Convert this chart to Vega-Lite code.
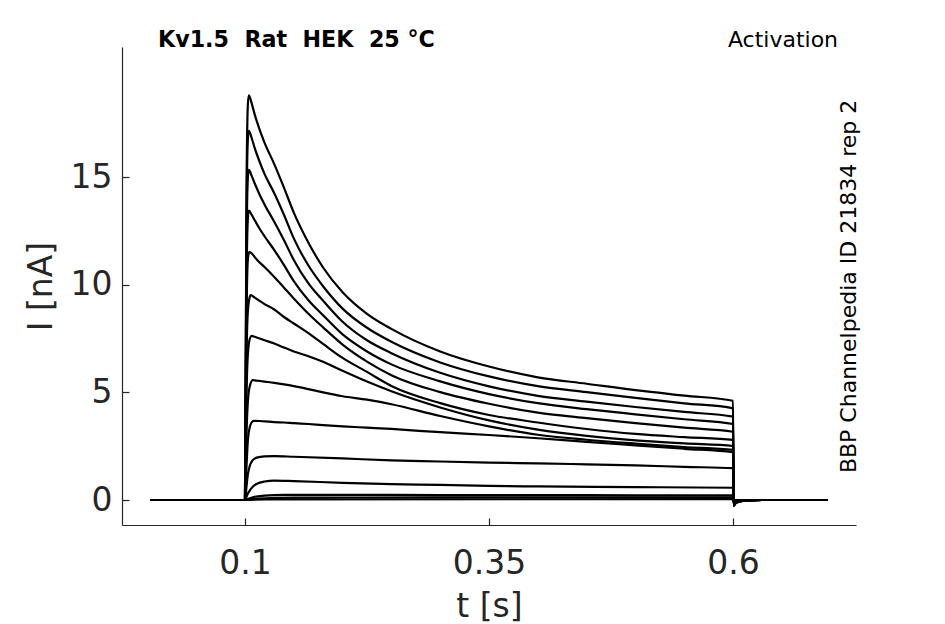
{
  "$schema": "https://vega.github.io/schema/vega-lite/v6.json",
  "width": 734,
  "height": 478,
  "autosize": "none",
  "padding": {"left": 122, "top": 47, "right": 89, "bottom": 99},
  "background": "white",
  "config": {
    "view": {"stroke": null},
    "font": "DejaVu Sans",
    "axis": {
      "grid": false,
      "domainColor": "#262626",
      "domainWidth": 1.2,
      "tickColor": "#262626",
      "tickWidth": 1.2,
      "tickSize": -7,
      "labelColor": "#262626",
      "labelFont": "DejaVu Sans",
      "labelFontSize": 33,
      "titleColor": "#262626",
      "titleFont": "DejaVu Sans",
      "titleFontSize": 33,
      "titleFontWeight": "normal"
    }
  },
  "layer": [
    {
      "data": {
        "values": [
          {"k": 1, "t": 0.003, "i": 0}, {"k": 1, "t": 0.1, "i": 0}, {"k": 1, "t": 0.1015, "i": 14.0}, {"k": 1, "t": 0.103, "i": 18.4}, {"k": 1, "t": 0.104, "i": 18.8}, {"k": 1, "t": 0.107, "i": 18.4}, {"k": 1, "t": 0.11, "i": 17.9}, {"k": 1, "t": 0.115, "i": 17.2}, {"k": 1, "t": 0.12, "i": 16.6}, {"k": 1, "t": 0.13, "i": 15.6}, {"k": 1, "t": 0.14, "i": 14.5}, {"k": 1, "t": 0.15, "i": 13.35}, {"k": 1, "t": 0.165, "i": 11.95}, {"k": 1, "t": 0.18, "i": 10.8}, {"k": 1, "t": 0.2, "i": 9.65}, {"k": 1, "t": 0.225, "i": 8.65}, {"k": 1, "t": 0.25, "i": 7.95}, {"k": 1, "t": 0.3, "i": 6.9}, {"k": 1, "t": 0.35, "i": 6.2}, {"k": 1, "t": 0.4, "i": 5.7}, {"k": 1, "t": 0.45, "i": 5.4}, {"k": 1, "t": 0.5, "i": 5.1}, {"k": 1, "t": 0.55, "i": 4.85}, {"k": 1, "t": 0.6, "i": 4.61}, {"k": 1, "t": 0.6005, "i": -0.28}, {"k": 1, "t": 0.603, "i": -0.14}, {"k": 1, "t": 0.61, "i": -0.04}, {"k": 1, "t": 0.63, "i": 0}, {"k": 1, "t": 0.697, "i": 0},
          {"k": 2, "t": 0.003, "i": 0}, {"k": 2, "t": 0.1, "i": 0}, {"k": 2, "t": 0.1015, "i": 12.8}, {"k": 2, "t": 0.103, "i": 16.8}, {"k": 2, "t": 0.104, "i": 17.15}, {"k": 2, "t": 0.107, "i": 16.79}, {"k": 2, "t": 0.11, "i": 16.34}, {"k": 2, "t": 0.115, "i": 15.71}, {"k": 2, "t": 0.12, "i": 15.15}, {"k": 2, "t": 0.13, "i": 14.25}, {"k": 2, "t": 0.14, "i": 13.24}, {"k": 2, "t": 0.15, "i": 12.15}, {"k": 2, "t": 0.165, "i": 10.89}, {"k": 2, "t": 0.18, "i": 9.93}, {"k": 2, "t": 0.2, "i": 8.89}, {"k": 2, "t": 0.225, "i": 8.0}, {"k": 2, "t": 0.25, "i": 7.35}, {"k": 2, "t": 0.3, "i": 6.39}, {"k": 2, "t": 0.35, "i": 5.74}, {"k": 2, "t": 0.4, "i": 5.29}, {"k": 2, "t": 0.45, "i": 5.01}, {"k": 2, "t": 0.5, "i": 4.74}, {"k": 2, "t": 0.55, "i": 4.49}, {"k": 2, "t": 0.6, "i": 4.26}, {"k": 2, "t": 0.6005, "i": -0.27}, {"k": 2, "t": 0.603, "i": -0.13}, {"k": 2, "t": 0.61, "i": -0.04}, {"k": 2, "t": 0.63, "i": 0}, {"k": 2, "t": 0.697, "i": 0},
          {"k": 3, "t": 0.003, "i": 0}, {"k": 3, "t": 0.1, "i": 0}, {"k": 3, "t": 0.1015, "i": 11.3}, {"k": 3, "t": 0.103, "i": 15.0}, {"k": 3, "t": 0.104, "i": 15.33}, {"k": 3, "t": 0.107, "i": 15.04}, {"k": 3, "t": 0.11, "i": 14.7}, {"k": 3, "t": 0.115, "i": 14.18}, {"k": 3, "t": 0.12, "i": 13.73}, {"k": 3, "t": 0.13, "i": 12.92}, {"k": 3, "t": 0.14, "i": 12.06}, {"k": 3, "t": 0.15, "i": 11.15}, {"k": 3, "t": 0.165, "i": 10.06}, {"k": 3, "t": 0.18, "i": 9.26}, {"k": 3, "t": 0.2, "i": 8.28}, {"k": 3, "t": 0.225, "i": 7.42}, {"k": 3, "t": 0.25, "i": 6.82}, {"k": 3, "t": 0.3, "i": 5.91}, {"k": 3, "t": 0.35, "i": 5.28}, {"k": 3, "t": 0.4, "i": 4.84}, {"k": 3, "t": 0.45, "i": 4.57}, {"k": 3, "t": 0.5, "i": 4.32}, {"k": 3, "t": 0.55, "i": 4.09}, {"k": 3, "t": 0.6, "i": 3.87}, {"k": 3, "t": 0.6005, "i": -0.26}, {"k": 3, "t": 0.603, "i": -0.12}, {"k": 3, "t": 0.61, "i": -0.04}, {"k": 3, "t": 0.63, "i": 0}, {"k": 3, "t": 0.697, "i": 0},
          {"k": 4, "t": 0.003, "i": 0}, {"k": 4, "t": 0.1, "i": 0}, {"k": 4, "t": 0.1015, "i": 9.8}, {"k": 4, "t": 0.103, "i": 13.1}, {"k": 4, "t": 0.104, "i": 13.44}, {"k": 4, "t": 0.107, "i": 13.24}, {"k": 4, "t": 0.11, "i": 12.99}, {"k": 4, "t": 0.115, "i": 12.6}, {"k": 4, "t": 0.12, "i": 12.25}, {"k": 4, "t": 0.13, "i": 11.61}, {"k": 4, "t": 0.14, "i": 10.91}, {"k": 4, "t": 0.15, "i": 10.17}, {"k": 4, "t": 0.165, "i": 9.28}, {"k": 4, "t": 0.18, "i": 8.58}, {"k": 4, "t": 0.2, "i": 7.69}, {"k": 4, "t": 0.225, "i": 6.9}, {"k": 4, "t": 0.25, "i": 6.3}, {"k": 4, "t": 0.3, "i": 5.51}, {"k": 4, "t": 0.35, "i": 4.92}, {"k": 4, "t": 0.4, "i": 4.5}, {"k": 4, "t": 0.45, "i": 4.22}, {"k": 4, "t": 0.5, "i": 3.98}, {"k": 4, "t": 0.55, "i": 3.75}, {"k": 4, "t": 0.6, "i": 3.53}, {"k": 4, "t": 0.6005, "i": -0.25}, {"k": 4, "t": 0.603, "i": -0.12}, {"k": 4, "t": 0.61, "i": -0.04}, {"k": 4, "t": 0.63, "i": 0}, {"k": 4, "t": 0.697, "i": 0},
          {"k": 5, "t": 0.003, "i": 0}, {"k": 5, "t": 0.1, "i": 0}, {"k": 5, "t": 0.1015, "i": 8.3}, {"k": 5, "t": 0.103, "i": 11.2}, {"k": 5, "t": 0.1045, "i": 11.53}, {"k": 5, "t": 0.107, "i": 11.45}, {"k": 5, "t": 0.11, "i": 11.28}, {"k": 5, "t": 0.115, "i": 11.03}, {"k": 5, "t": 0.12, "i": 10.82}, {"k": 5, "t": 0.13, "i": 10.36}, {"k": 5, "t": 0.14, "i": 9.86}, {"k": 5, "t": 0.15, "i": 9.36}, {"k": 5, "t": 0.165, "i": 8.65}, {"k": 5, "t": 0.18, "i": 8.02}, {"k": 5, "t": 0.2, "i": 7.22}, {"k": 5, "t": 0.225, "i": 6.43}, {"k": 5, "t": 0.25, "i": 5.8}, {"k": 5, "t": 0.3, "i": 5.01}, {"k": 5, "t": 0.35, "i": 4.47}, {"k": 5, "t": 0.4, "i": 4.06}, {"k": 5, "t": 0.45, "i": 3.8}, {"k": 5, "t": 0.5, "i": 3.57}, {"k": 5, "t": 0.55, "i": 3.36}, {"k": 5, "t": 0.6, "i": 3.17}, {"k": 5, "t": 0.6005, "i": -0.24}, {"k": 5, "t": 0.603, "i": -0.11}, {"k": 5, "t": 0.61, "i": -0.03}, {"k": 5, "t": 0.63, "i": 0}, {"k": 5, "t": 0.697, "i": 0},
          {"k": 6, "t": 0.003, "i": 0}, {"k": 6, "t": 0.1, "i": 0}, {"k": 6, "t": 0.1015, "i": 6.5}, {"k": 6, "t": 0.103, "i": 8.8}, {"k": 6, "t": 0.105, "i": 9.45}, {"k": 6, "t": 0.106, "i": 9.52}, {"k": 6, "t": 0.11, "i": 9.4}, {"k": 6, "t": 0.115, "i": 9.25}, {"k": 6, "t": 0.12, "i": 9.1}, {"k": 6, "t": 0.13, "i": 8.85}, {"k": 6, "t": 0.14, "i": 8.5}, {"k": 6, "t": 0.15, "i": 8.2}, {"k": 6, "t": 0.165, "i": 7.75}, {"k": 6, "t": 0.18, "i": 7.25}, {"k": 6, "t": 0.2, "i": 6.6}, {"k": 6, "t": 0.225, "i": 5.95}, {"k": 6, "t": 0.25, "i": 5.3}, {"k": 6, "t": 0.3, "i": 4.5}, {"k": 6, "t": 0.35, "i": 3.95}, {"k": 6, "t": 0.4, "i": 3.6}, {"k": 6, "t": 0.45, "i": 3.3}, {"k": 6, "t": 0.5, "i": 3.07}, {"k": 6, "t": 0.55, "i": 2.92}, {"k": 6, "t": 0.6, "i": 2.79}, {"k": 6, "t": 0.6005, "i": -0.22}, {"k": 6, "t": 0.603, "i": -0.1}, {"k": 6, "t": 0.61, "i": -0.03}, {"k": 6, "t": 0.63, "i": 0}, {"k": 6, "t": 0.697, "i": 0},
          {"k": 7, "t": 0.003, "i": 0}, {"k": 7, "t": 0.1, "i": 0}, {"k": 7, "t": 0.1015, "i": 4.8}, {"k": 7, "t": 0.103, "i": 6.8}, {"k": 7, "t": 0.105, "i": 7.5}, {"k": 7, "t": 0.107, "i": 7.62}, {"k": 7, "t": 0.11, "i": 7.58}, {"k": 7, "t": 0.115, "i": 7.5}, {"k": 7, "t": 0.12, "i": 7.42}, {"k": 7, "t": 0.13, "i": 7.27}, {"k": 7, "t": 0.14, "i": 7.08}, {"k": 7, "t": 0.15, "i": 6.9}, {"k": 7, "t": 0.165, "i": 6.68}, {"k": 7, "t": 0.18, "i": 6.42}, {"k": 7, "t": 0.2, "i": 6.0}, {"k": 7, "t": 0.225, "i": 5.5}, {"k": 7, "t": 0.25, "i": 5.05}, {"k": 7, "t": 0.3, "i": 4.3}, {"k": 7, "t": 0.35, "i": 3.7}, {"k": 7, "t": 0.4, "i": 3.27}, {"k": 7, "t": 0.45, "i": 2.98}, {"k": 7, "t": 0.5, "i": 2.77}, {"k": 7, "t": 0.55, "i": 2.63}, {"k": 7, "t": 0.6, "i": 2.51}, {"k": 7, "t": 0.6005, "i": -0.2}, {"k": 7, "t": 0.603, "i": -0.09}, {"k": 7, "t": 0.61, "i": -0.03}, {"k": 7, "t": 0.63, "i": 0}, {"k": 7, "t": 0.697, "i": 0},
          {"k": 8, "t": 0.003, "i": 0}, {"k": 8, "t": 0.1, "i": 0}, {"k": 8, "t": 0.1015, "i": 3.0}, {"k": 8, "t": 0.103, "i": 4.6}, {"k": 8, "t": 0.105, "i": 5.3}, {"k": 8, "t": 0.108, "i": 5.57}, {"k": 8, "t": 0.11, "i": 5.56}, {"k": 8, "t": 0.115, "i": 5.53}, {"k": 8, "t": 0.12, "i": 5.5}, {"k": 8, "t": 0.13, "i": 5.44}, {"k": 8, "t": 0.14, "i": 5.37}, {"k": 8, "t": 0.15, "i": 5.29}, {"k": 8, "t": 0.165, "i": 5.15}, {"k": 8, "t": 0.18, "i": 5.0}, {"k": 8, "t": 0.2, "i": 4.82}, {"k": 8, "t": 0.225, "i": 4.66}, {"k": 8, "t": 0.25, "i": 4.45}, {"k": 8, "t": 0.3, "i": 3.9}, {"k": 8, "t": 0.35, "i": 3.42}, {"k": 8, "t": 0.4, "i": 3.03}, {"k": 8, "t": 0.45, "i": 2.8}, {"k": 8, "t": 0.5, "i": 2.62}, {"k": 8, "t": 0.55, "i": 2.46}, {"k": 8, "t": 0.6, "i": 2.33}, {"k": 8, "t": 0.6005, "i": -0.18}, {"k": 8, "t": 0.603, "i": -0.08}, {"k": 8, "t": 0.61, "i": -0.02}, {"k": 8, "t": 0.63, "i": 0}, {"k": 8, "t": 0.697, "i": 0},
          {"k": 9, "t": 0.003, "i": 0}, {"k": 9, "t": 0.1, "i": 0}, {"k": 9, "t": 0.1015, "i": 1.5}, {"k": 9, "t": 0.103, "i": 2.8}, {"k": 9, "t": 0.105, "i": 3.4}, {"k": 9, "t": 0.107, "i": 3.62}, {"k": 9, "t": 0.109, "i": 3.68}, {"k": 9, "t": 0.115, "i": 3.67}, {"k": 9, "t": 0.12, "i": 3.65}, {"k": 9, "t": 0.13, "i": 3.62}, {"k": 9, "t": 0.14, "i": 3.6}, {"k": 9, "t": 0.15, "i": 3.57}, {"k": 9, "t": 0.165, "i": 3.53}, {"k": 9, "t": 0.18, "i": 3.48}, {"k": 9, "t": 0.2, "i": 3.42}, {"k": 9, "t": 0.225, "i": 3.36}, {"k": 9, "t": 0.25, "i": 3.3}, {"k": 9, "t": 0.3, "i": 3.15}, {"k": 9, "t": 0.35, "i": 3.02}, {"k": 9, "t": 0.4, "i": 2.87}, {"k": 9, "t": 0.45, "i": 2.7}, {"k": 9, "t": 0.5, "i": 2.54}, {"k": 9, "t": 0.55, "i": 2.38}, {"k": 9, "t": 0.6, "i": 2.22}, {"k": 9, "t": 0.6005, "i": -0.16}, {"k": 9, "t": 0.603, "i": -0.07}, {"k": 9, "t": 0.61, "i": -0.02}, {"k": 9, "t": 0.63, "i": 0}, {"k": 9, "t": 0.697, "i": 0},
          {"k": 10, "t": 0.003, "i": 0}, {"k": 10, "t": 0.1, "i": 0}, {"k": 10, "t": 0.1015, "i": 0.6}, {"k": 10, "t": 0.103, "i": 1.2}, {"k": 10, "t": 0.105, "i": 1.6}, {"k": 10, "t": 0.108, "i": 1.85}, {"k": 10, "t": 0.112, "i": 1.97}, {"k": 10, "t": 0.12, "i": 2.03}, {"k": 10, "t": 0.13, "i": 2.04}, {"k": 10, "t": 0.15, "i": 2.01}, {"k": 10, "t": 0.2, "i": 1.93}, {"k": 10, "t": 0.25, "i": 1.84}, {"k": 10, "t": 0.3, "i": 1.79}, {"k": 10, "t": 0.35, "i": 1.74}, {"k": 10, "t": 0.4, "i": 1.7}, {"k": 10, "t": 0.45, "i": 1.66}, {"k": 10, "t": 0.5, "i": 1.61}, {"k": 10, "t": 0.55, "i": 1.54}, {"k": 10, "t": 0.6, "i": 1.48}, {"k": 10, "t": 0.6005, "i": -0.12}, {"k": 10, "t": 0.603, "i": -0.05}, {"k": 10, "t": 0.61, "i": -0.01}, {"k": 10, "t": 0.63, "i": 0}, {"k": 10, "t": 0.697, "i": 0},
          {"k": 11, "t": 0.003, "i": 0}, {"k": 11, "t": 0.1, "i": 0}, {"k": 11, "t": 0.1015, "i": 0.15}, {"k": 11, "t": 0.103, "i": 0.3}, {"k": 11, "t": 0.105, "i": 0.45}, {"k": 11, "t": 0.108, "i": 0.62}, {"k": 11, "t": 0.112, "i": 0.75}, {"k": 11, "t": 0.12, "i": 0.86}, {"k": 11, "t": 0.13, "i": 0.9}, {"k": 11, "t": 0.15, "i": 0.88}, {"k": 11, "t": 0.2, "i": 0.8}, {"k": 11, "t": 0.25, "i": 0.74}, {"k": 11, "t": 0.3, "i": 0.7}, {"k": 11, "t": 0.35, "i": 0.66}, {"k": 11, "t": 0.4, "i": 0.63}, {"k": 11, "t": 0.5, "i": 0.6}, {"k": 11, "t": 0.6, "i": 0.57}, {"k": 11, "t": 0.6005, "i": -0.08}, {"k": 11, "t": 0.603, "i": -0.03}, {"k": 11, "t": 0.61, "i": 0}, {"k": 11, "t": 0.697, "i": 0},
          {"k": 12, "t": 0.003, "i": 0}, {"k": 12, "t": 0.1, "i": 0}, {"k": 12, "t": 0.1015, "i": 0.02}, {"k": 12, "t": 0.105, "i": 0.08}, {"k": 12, "t": 0.11, "i": 0.15}, {"k": 12, "t": 0.12, "i": 0.2}, {"k": 12, "t": 0.14, "i": 0.24}, {"k": 12, "t": 0.2, "i": 0.24}, {"k": 12, "t": 0.3, "i": 0.23}, {"k": 12, "t": 0.4, "i": 0.23}, {"k": 12, "t": 0.5, "i": 0.22}, {"k": 12, "t": 0.6, "i": 0.22}, {"k": 12, "t": 0.6005, "i": -0.05}, {"k": 12, "t": 0.605, "i": 0}, {"k": 12, "t": 0.697, "i": 0},
          {"k": 13, "t": 0.003, "i": 0}, {"k": 13, "t": 0.1, "i": 0}, {"k": 13, "t": 0.105, "i": 0.03}, {"k": 13, "t": 0.12, "i": 0.08}, {"k": 13, "t": 0.15, "i": 0.11}, {"k": 13, "t": 0.3, "i": 0.12}, {"k": 13, "t": 0.6, "i": 0.12}, {"k": 13, "t": 0.6005, "i": -0.03}, {"k": 13, "t": 0.605, "i": 0}, {"k": 13, "t": 0.697, "i": 0},
          {"k": 14, "t": 0.003, "i": 0}, {"k": 14, "t": 0.1, "i": 0}, {"k": 14, "t": 0.12, "i": 0.03}, {"k": 14, "t": 0.6, "i": 0.04}, {"k": 14, "t": 0.6005, "i": 0}, {"k": 14, "t": 0.697, "i": 0}
        ]
      },
      "mark": {"type": "line", "color": "black", "strokeWidth": 2.2, "strokeJoin": "round", "interpolate": "monotone"},
      "encoding": {
        "x": {
          "field": "t",
          "type": "quantitative",
          "scale": {"domain": [-0.026, 0.726], "nice": false, "zero": false},
          "axis": {"values": [0.1, 0.35, 0.6], "format": "~g", "title": "t [s]", "labelPadding": 29, "titlePadding": 10}
        },
        "y": {
          "field": "i",
          "type": "quantitative",
          "scale": {"domain": [-1.16, 21.04], "nice": false, "zero": false},
          "axis": {"values": [0, 5, 10, 15], "title": "I [nA]", "labelPadding": 17, "titlePadding": 12}
        },
        "detail": {"field": "k", "type": "nominal"}
      }
    },
    {
      "data": {"values": [{"t": 0.0109, "i": 21.04, "label": "Kv1.5\u00a0\u00a0Rat\u00a0\u00a0HEK\u00a0\u00a025\u00a0°C"}]},
      "mark": {"type": "text", "align": "left", "baseline": "alphabetic", "font": "DejaVu Sans", "fontSize": 22.2, "fontWeight": "bold", "color": "black"},
      "encoding": {"x": {"field": "t", "type": "quantitative"}, "y": {"field": "i", "type": "quantitative"}, "text": {"field": "label"}}
    },
    {
      "data": {"values": [{"t": 0.7076, "i": 21.04, "label": "Activation"}]},
      "mark": {"type": "text", "align": "right", "baseline": "alphabetic", "font": "DejaVu Sans", "fontSize": 22, "color": "black"},
      "encoding": {"x": {"field": "t", "type": "quantitative"}, "y": {"field": "i", "type": "quantitative"}, "text": {"field": "label"}}
    },
    {
      "data": {"values": [{"t": 0.719, "i": 9.92, "label": "BBP Channelpedia ID 21834 rep 2"}]},
      "mark": {"type": "text", "align": "center", "baseline": "middle", "angle": 270, "font": "DejaVu Sans", "fontSize": 22, "color": "black"},
      "encoding": {"x": {"field": "t", "type": "quantitative"}, "y": {"field": "i", "type": "quantitative"}, "text": {"field": "label"}}
    }
  ]
}
